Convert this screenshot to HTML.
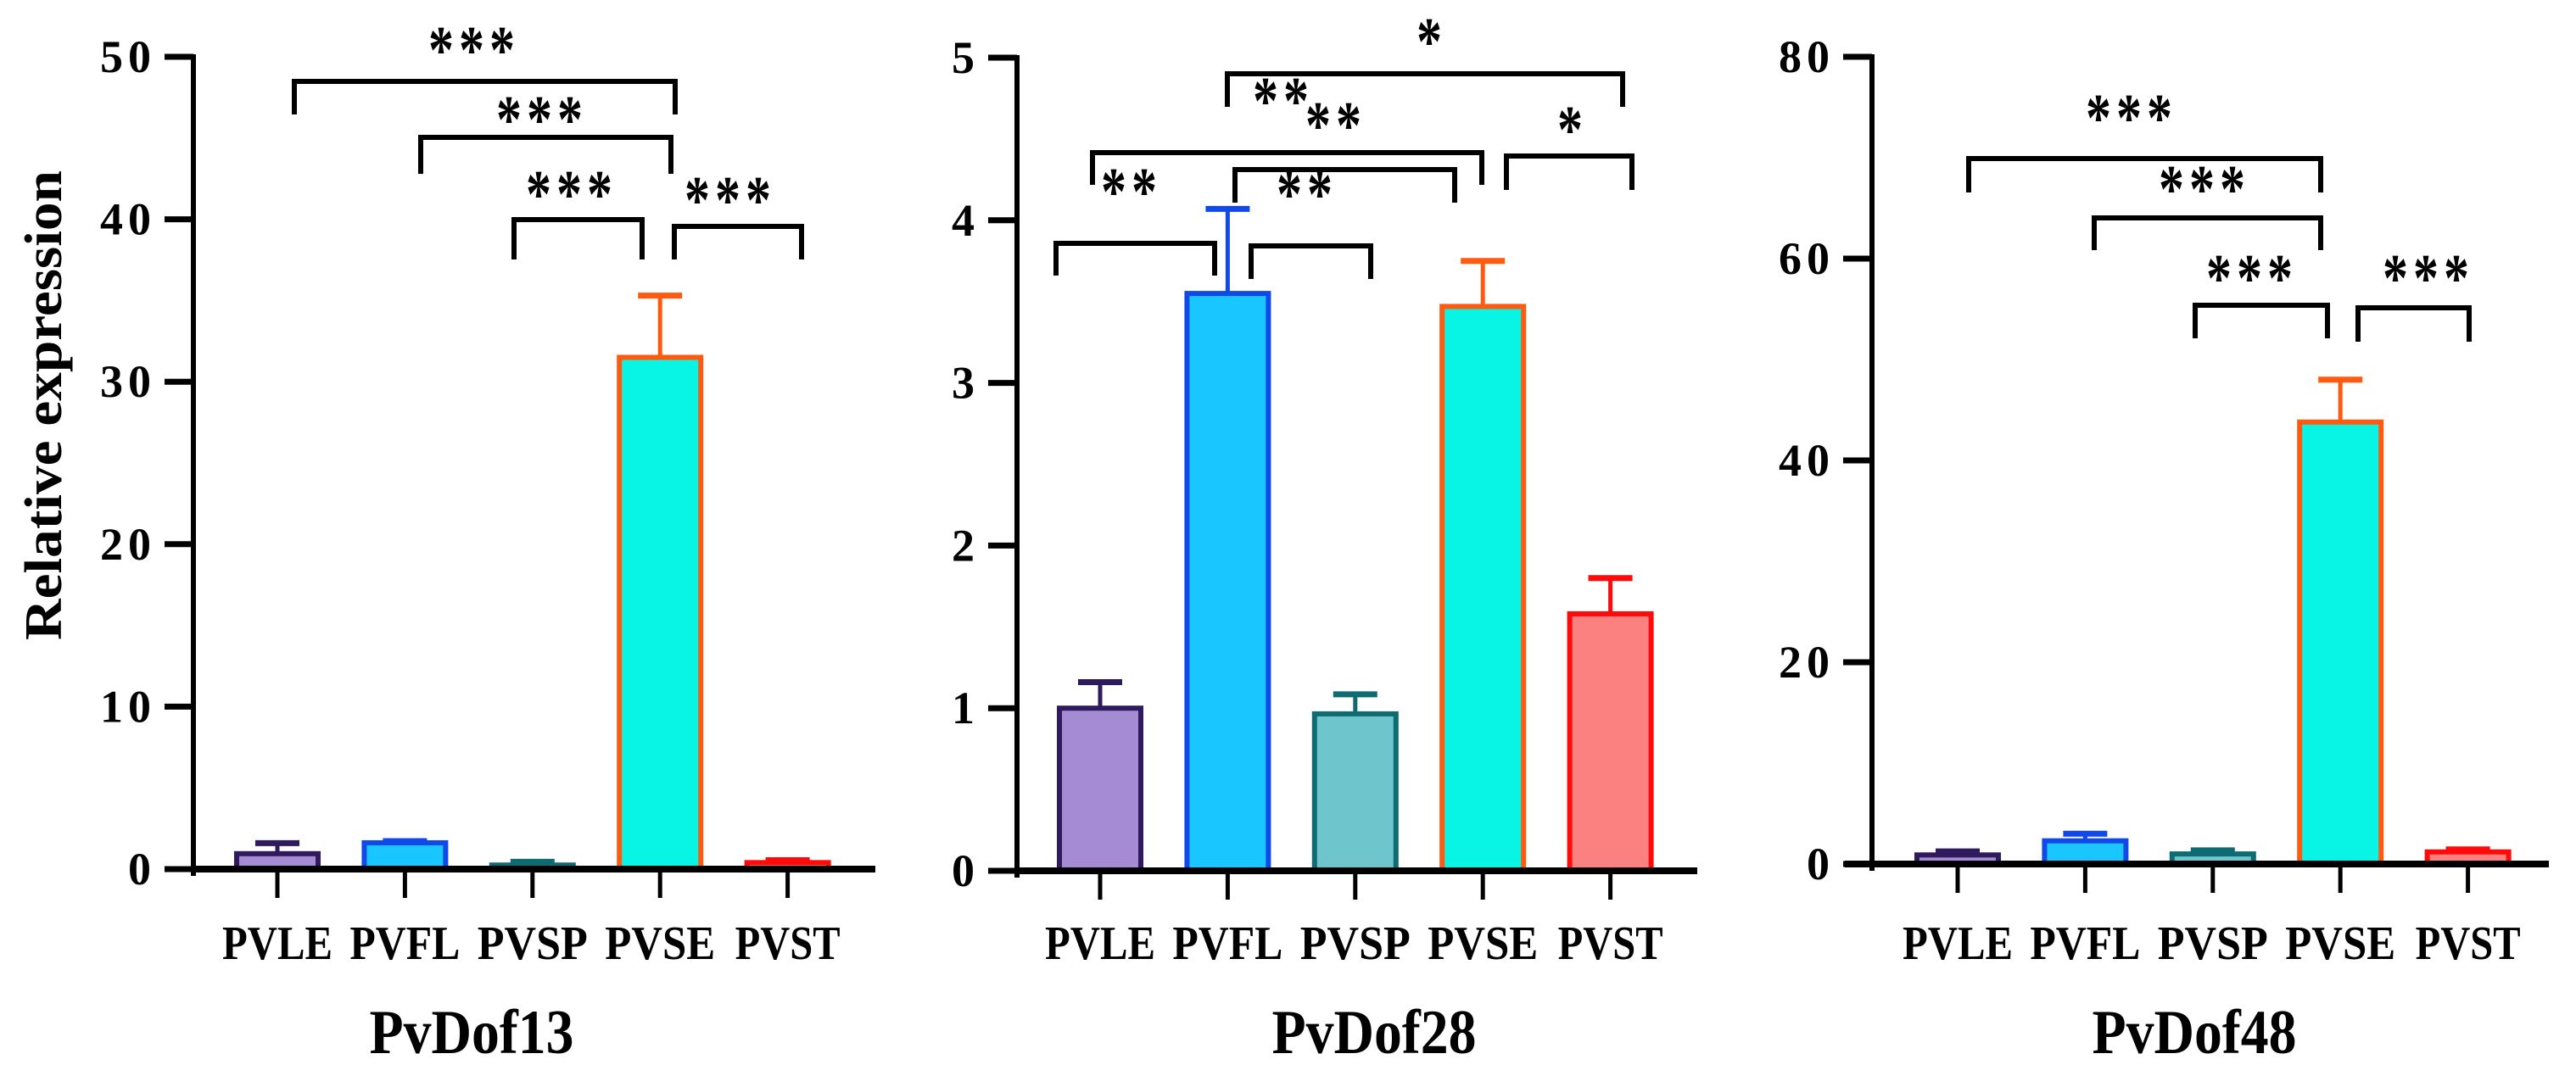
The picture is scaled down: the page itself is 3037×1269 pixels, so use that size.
<!DOCTYPE html>
<html><head><meta charset="utf-8">
<style>
html,body{margin:0;padding:0;background:#fff;}
svg{display:block;}
text{font-family:"Liberation Serif","Times New Roman",serif;font-weight:bold;fill:#000;}
</style></head>
<body>
<svg id="chart" width="3037" height="1269" viewBox="0 0 3037 1269" xmlns="http://www.w3.org/2000/svg">
<text x="0" y="0" font-size="62" text-anchor="middle" transform="translate(72,478) rotate(-90)" textLength="554" lengthAdjust="spacingAndGlyphs">Relative expression</text>
</svg>
<script>
const categories = ["PVLE","PVFL","PVSP","PVSE","PVST"];
const dof13Values = [0.95, 1.62, 0.25, 31.5, 0.4];
const dof13Errors = [0.65, 0.1, 0.2, 3.8, 0.15];
const dof28Values = [1.0, 3.55, 0.965, 3.47, 1.58];
const dof28Errors = [0.16, 0.52, 0.12, 0.28, 0.22];
const dof48Values = [0.9, 2.3, 1.0, 43.8, 1.2];
const dof48Errors = [0.35, 0.7, 0.35, 4.2, 0.25];
const dof13Ticks = [0,10,20,30,40,50];
const dof28Ticks = [0,1,2,3,4,5];
const dof48Ticks = [0,20,40,60,80];
const panelTitles = ["PvDof13","PvDof28","PvDof48"];

const fills = ["#a48bd4","#1ac6ff","#6ec6cc","#08f5e6","#fb8080"];
const strokes = ["#2e1a5c","#1149e8","#0f6b72","#ff5a10","#ff0a0a"];
const NS = "http://www.w3.org/2000/svg";
const svg = document.getElementById("chart");
function el(tag, attrs, parent){
  const e = document.createElementNS(NS, tag);
  for (const k in attrs) e.setAttribute(k, attrs[k]);
  (parent||svg).appendChild(e);
  return e;
}
const panels = [
  {vals:dof13Values, errs:dof13Errors, ticks:dof13Ticks, max:50, ax:228, base:1025, top:67, x0:327, xEnd:1032, xStart:228, title:panelTitles[0], tcx:556,
   brackets:[[347,796,96,135,"***",556,48],[496,791,162,205,"***",636,130],[606,757,259,306,"***",671,218],[795,945,267,306,"***",858,225]]},
  {vals:dof28Values, errs:dof28Errors, ticks:dof28Ticks, max:5, ax:1199, base:1027, top:68, x0:1297, xEnd:2001, xStart:1199, title:panelTitles[1], tcx:1620,
   brackets:[[1447,1913,87,126,"*",1685,38],[1288,1747,180,218,"**",1510,108],[1456,1715,200,239,"**",1572,137],[1776,1924,184,224,"*",1851,142],[1245,1432,287,325,"**",1331,215],[1475,1616,290,329,"**",1538,218]]},
  {vals:dof48Values, errs:dof48Errors, ticks:dof48Ticks, max:80, ax:2207, base:1019, top:67, x0:2308, xEnd:3005, xStart:2175, title:panelTitles[2], tcx:2587,
   brackets:[[2321,2736,187,227,"***",2510,128],[2469,2736,257,295,"***",2596,212],[2588,2744,360,399,"***",2652,317],[2780,2911,363,403,"***",2860,317]]}
];
const step = 150.4, bw = 96;
panels.forEach((p, pi) => {
  const g = el("g", {});
  
  
  const yS = v => p.base - (v / p.max) * (p.base - p.top);
  const xS = i => p.x0 + i * step;
  p.vals.forEach((v, i) => {
    const cx = xS(i), y = yS(v), ey = yS(v + p.errs[i]);
    const eb = el("line", {x1:cx, x2:cx, y1:y, y2:ey, stroke:strokes[i], "stroke-width":5}, g);
    
    
    const cap = el("line", {x1:cx-26, x2:cx+26, y1:ey, y2:ey, stroke:strokes[i], "stroke-width":7}, g);
    
    
    const h = Math.max(p.base - y, 1);
    const r = el("rect", {x:cx-bw/2, y:p.base-h, width:bw, height:h, fill:fills[i], stroke:strokes[i], "stroke-width":6}, g);
    
    
  });
  const ya = el("line", {x1:p.ax, x2:p.ax, y1:p.top-3, y2:p.base+8, stroke:"#000", "stroke-width":6}, g);
  
  
  const xa = el("line", {x1:p.xStart, x2:p.xEnd, y1:p.base, y2:p.base, stroke:"#000", "stroke-width":8}, g);
  
  
  p.ticks.forEach(t => {
    const y = yS(t);
    const tk = el("line", {x1:p.ax-34, x2:p.ax, y1:y, y2:y, stroke:"#000", "stroke-width":7}, g);
    
    
    const s = String(t);
    const attrs = {x:p.ax-50, y:y+18, "font-size":54, "text-anchor":"end"};
    if (s.length > 1) { attrs.textLength = 60; attrs.lengthAdjust = "spacing"; }
    const lbl = el("text", attrs, g);
    lbl.textContent = s;
    
    
  });
  categories.forEach((c, i) => {
    const cx = xS(i);
    const tk = el("line", {x1:cx, x2:cx, y1:p.base, y2:p.base+34, stroke:"#000", "stroke-width":5}, g);
    
    
    const lbl = el("text", {x:cx, y:1131, "font-size":56, "text-anchor":"middle", textLength:(c==="PVST"?124:130), lengthAdjust:"spacingAndGlyphs"}, g);
    lbl.textContent = c;
    
    
  });
  const t = el("text", {x:p.tcx, y:1242, "font-size":74, "text-anchor":"middle", textLength:241, lengthAdjust:"spacingAndGlyphs"}, g);
  t.textContent = p.title;
  
  
  p.brackets.forEach(b => {
    const [x1, x2, ty, ly, stars, sx, sy] = b;
    const pl = el("polyline", {points:`${x1},${ly} ${x1},${ty} ${x2},${ty} ${x2},${ly}`, fill:"none", stroke:"#000", "stroke-width":6}, g);
    
    
    const n = stars.length;
    for (let k = 0; k < n; k++) {
      const st = el("text", {x:sx + (k - (n-1)/2) * 36, y:sy+38, "font-size":80, "text-anchor":"middle", textLength:30, lengthAdjust:"spacingAndGlyphs"}, g);
      st.textContent = "*";
      
      
    }
  });
});
</script>
</body></html>
